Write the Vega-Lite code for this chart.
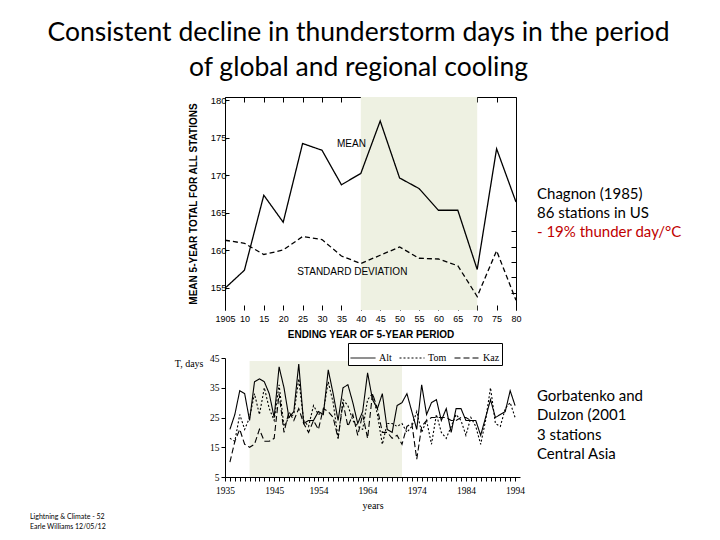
{
"$schema": "https://vega.github.io/schema/vega-lite/v6.json",
"background": "white",
"padding": {"left": 30, "top": 19, "right": 5, "bottom": 5},
"title": {"text": ["Consistent decline in thunderstorm days in the period", "of global and regional cooling"], "font": "Lato", "fontSize": 26.5, "fontWeight": "normal", "lineHeight": 35, "color": "black", "anchor": "middle", "offset": 14},
"columns": 2,
"align": "each",
"spacing": {"row": 3, "column": 12},
"resolve": {"scale": {"strokeDash": "independent", "color": "independent"}, "legend": {"strokeDash": "independent", "color": "independent"}},
"config": {"view": {"stroke": null}, "axis": {"grid": false, "domainColor": "black", "tickColor": "black", "labelColor": "black", "titleColor": "black"}},
"concat": [
{
"width": 291, "height": 213,
"layer": [
{"data": {"values": [{"start": 1940, "end": 1970}]},
 "mark": {"type": "rect", "color": "#eef1e2", "opacity": 1},
 "encoding": {
  "x": {"field": "start", "type": "quantitative", "scale": {"domain": [1905, 1980], "nice": false, "zero": false},
   "axis": {"orient": "bottom", "values": [1905,1910,1915,1920,1925,1930,1935,1940,1945,1950,1955,1960,1965,1970,1975,1980], "labelExpr": "datum.value == 1905 ? '1905' : '' + (datum.value % 100)", "domain": false, "tickSize": -5, "labelFont": "Liberation Sans", "labelFontSize": 9, "labelPadding": 9, "labelFlush": false, "labelOverlap": false, "title": "ENDING YEAR OF 5-YEAR PERIOD", "titleFont": "Liberation Sans", "titleFontSize": 10, "titleFontWeight": "bold", "titlePadding": 6}},
  "x2": {"field": "end"}}},
{"data": {"values": [
  {"year": 1905, "series": "Mean", "value": 154.9},
  {"year": 1910, "series": "Mean", "value": 157.3},
  {"year": 1915, "series": "Mean", "value": 167.3},
  {"year": 1920, "series": "Mean", "value": 163.7},
  {"year": 1925, "series": "Mean", "value": 174.2},
  {"year": 1930, "series": "Mean", "value": 173.3},
  {"year": 1935, "series": "Mean", "value": 168.7},
  {"year": 1940, "series": "Mean", "value": 170.2},
  {"year": 1945, "series": "Mean", "value": 177.2},
  {"year": 1950, "series": "Mean", "value": 169.6},
  {"year": 1955, "series": "Mean", "value": 168.2},
  {"year": 1960, "series": "Mean", "value": 165.3},
  {"year": 1965, "series": "Mean", "value": 165.3},
  {"year": 1970, "series": "Mean", "value": 157.4},
  {"year": 1975, "series": "Mean", "value": 173.5},
  {"year": 1980, "series": "Mean", "value": 166.4},
  {"year": 1905, "series": "Standard deviation", "value": 161.3},
  {"year": 1910, "series": "Standard deviation", "value": 160.9},
  {"year": 1915, "series": "Standard deviation", "value": 159.4},
  {"year": 1920, "series": "Standard deviation", "value": 160.0},
  {"year": 1925, "series": "Standard deviation", "value": 161.8},
  {"year": 1930, "series": "Standard deviation", "value": 161.4},
  {"year": 1935, "series": "Standard deviation", "value": 159.2},
  {"year": 1940, "series": "Standard deviation", "value": 158.2},
  {"year": 1945, "series": "Standard deviation", "value": 159.3},
  {"year": 1950, "series": "Standard deviation", "value": 160.4},
  {"year": 1955, "series": "Standard deviation", "value": 158.9},
  {"year": 1960, "series": "Standard deviation", "value": 158.8},
  {"year": 1965, "series": "Standard deviation", "value": 157.9},
  {"year": 1970, "series": "Standard deviation", "value": 153.8},
  {"year": 1975, "series": "Standard deviation", "value": 159.9},
  {"year": 1980, "series": "Standard deviation", "value": 153.3}
 ]},
 "mark": {"type": "line", "color": "black", "strokeWidth": 1.3},
 "encoding": {
  "x": {"field": "year", "type": "quantitative", "scale": {"domain": [1905, 1980], "nice": false, "zero": false},
   "axis": {"orient": "top", "values": [1905,1910,1915,1920,1925,1930,1935,1940,1945,1950,1955,1960,1965,1970,1975,1980], "labels": false, "domain": true, "tickSize": -5, "title": null}},
  "y": {"field": "value", "type": "quantitative", "scale": {"domain": [152, 180.4], "nice": false, "zero": false},
   "axis": {"orient": "left", "values": [155,160,165,170,175,180], "tickSize": -4, "labelFont": "Liberation Sans", "labelFontSize": 9.5, "labelPadding": 3, "title": "MEAN 5-YEAR TOTAL FOR ALL STATIONS", "titleFont": "Liberation Sans", "titleFontSize": 10, "titleFontWeight": "bold", "titlePadding": 12}},
  "strokeDash": {"field": "series", "type": "nominal", "scale": {"domain": ["Mean", "Standard deviation"], "range": [[1, 0], [5, 3]]}, "legend": null}}},
{"data": {"values": [
  {"year": 1937.6, "value": 174.2, "label": "MEAN"},
  {"year": 1937.8, "value": 157.1, "label": "STANDARD DEVIATION"}
 ]},
 "mark": {"type": "text", "font": "Liberation Sans", "fontSize": 10, "color": "black", "baseline": "middle", "align": "center"},
 "encoding": {
  "x": {"field": "year", "type": "quantitative", "scale": {"domain": [1905, 1980], "nice": false, "zero": false}, "axis": null},
  "y": {"field": "value", "type": "quantitative", "scale": {"domain": [152, 180.4], "nice": false, "zero": false},
   "axis": {"orient": "right", "values": [154.3, 156.4, 158.4, 160.4, 162.5], "labels": false, "tickSize": -5, "domain": true, "title": null}},
  "text": {"field": "label"}}}
],
"resolve": {"axis": {"x": "independent", "y": "independent"}}
},
{
"width": 150, "height": 232,
"data": {"values": [
 {"line": 1, "col": 0, "text": "Chagnon (1985)", "kind": "source"},
 {"line": 2, "col": 0, "text": "86 stations in US", "kind": "source"},
 {"line": 3, "col": 0, "text": "- 19% thunder day/°C", "kind": "result"}
]},
"mark": {"type": "text", "align": "left", "baseline": "middle", "font": "Lato", "fontSize": 15},
"encoding": {
 "x": {"field": "col", "type": "quantitative", "scale": {"domain": [0, 1]}, "axis": null},
 "y": {"field": "line", "type": "quantitative", "scale": {"domain": [-3.95, 7.95], "reverse": true, "nice": false, "zero": false}, "axis": null},
 "text": {"field": "text"},
 "color": {"field": "kind", "type": "nominal", "scale": {"domain": ["source", "result"], "range": ["#000000", "#c00000"]}, "legend": null}}
},
{
"width": 295, "height": 119,
"title": {"text": ["Lightning & Climate - 52", "Earle Williams 12/05/12"], "orient": "bottom", "anchor": "start", "frame": "group", "dx": -195, "font": "Lato", "fontSize": 7, "fontWeight": "normal", "lineHeight": 10, "offset": 2, "color": "black"},
"layer": [
{"data": {"values": [{"start": 1940, "end": 1971, "low": 5, "high": 44}]},
 "mark": {"type": "rect", "color": "#eff1e4", "opacity": 1},
 "encoding": {
  "x": {"field": "start", "type": "quantitative", "scale": {"domain": [1935, 1995], "nice": false, "zero": false}, "axis": null},
  "x2": {"field": "end"},
  "y": {"field": "low", "type": "quantitative", "scale": {"domain": [5, 45], "nice": false, "zero": false}, "axis": null},
  "y2": {"field": "high"}}},
{"data": {"values": [
{"year":1936,"station":"Alt","days":21},{"year":1937,"station":"Alt","days":26},{"year":1938,"station":"Alt","days":34},{"year":1939,"station":"Alt","days":33},{"year":1940,"station":"Alt","days":24},{"year":1941,"station":"Alt","days":37},{"year":1942,"station":"Alt","days":38},{"year":1943,"station":"Alt","days":37},{"year":1944,"station":"Alt","days":33},{"year":1945,"station":"Alt","days":25},{"year":1946,"station":"Alt","days":42},{"year":1947,"station":"Alt","days":35},{"year":1948,"station":"Alt","days":25},{"year":1949,"station":"Alt","days":27},{"year":1950,"station":"Alt","days":43},{"year":1951,"station":"Alt","days":23},{"year":1952,"station":"Alt","days":24},{"year":1953,"station":"Alt","days":24},{"year":1954,"station":"Alt","days":27},{"year":1955,"station":"Alt","days":26},{"year":1956,"station":"Alt","days":41},{"year":1957,"station":"Alt","days":33},{"year":1958,"station":"Alt","days":24},{"year":1959,"station":"Alt","days":35},{"year":1960,"station":"Alt","days":36},{"year":1961,"station":"Alt","days":30},{"year":1962,"station":"Alt","days":23},{"year":1963,"station":"Alt","days":27},{"year":1964,"station":"Alt","days":40},{"year":1965,"station":"Alt","days":31},{"year":1966,"station":"Alt","days":28},{"year":1967,"station":"Alt","days":33},{"year":1968,"station":"Alt","days":21},{"year":1969,"station":"Alt","days":20},{"year":1970,"station":"Alt","days":29},{"year":1971,"station":"Alt","days":30},{"year":1972,"station":"Alt","days":33},{"year":1973,"station":"Alt","days":27},{"year":1974,"station":"Alt","days":21},{"year":1975,"station":"Alt","days":36},{"year":1976,"station":"Alt","days":26},{"year":1977,"station":"Alt","days":30},{"year":1978,"station":"Alt","days":31},{"year":1979,"station":"Alt","days":24},{"year":1980,"station":"Alt","days":28},{"year":1981,"station":"Alt","days":20},{"year":1982,"station":"Alt","days":28},{"year":1983,"station":"Alt","days":28},{"year":1984,"station":"Alt","days":24},{"year":1985,"station":"Alt","days":24},{"year":1986,"station":"Alt","days":24},{"year":1987,"station":"Alt","days":19},{"year":1988,"station":"Alt","days":25},{"year":1989,"station":"Alt","days":31},{"year":1990,"station":"Alt","days":25},{"year":1991,"station":"Alt","days":26},{"year":1992,"station":"Alt","days":27},{"year":1993,"station":"Alt","days":34},{"year":1994,"station":"Alt","days":29},
{"year":1936,"station":"Tom","days":18},{"year":1937,"station":"Tom","days":17},{"year":1938,"station":"Tom","days":26},{"year":1939,"station":"Tom","days":21},{"year":1940,"station":"Tom","days":25},{"year":1941,"station":"Tom","days":33},{"year":1942,"station":"Tom","days":26},{"year":1943,"station":"Tom","days":35},{"year":1944,"station":"Tom","days":28},{"year":1945,"station":"Tom","days":24},{"year":1946,"station":"Tom","days":36},{"year":1947,"station":"Tom","days":22},{"year":1948,"station":"Tom","days":25},{"year":1949,"station":"Tom","days":26},{"year":1950,"station":"Tom","days":38},{"year":1951,"station":"Tom","days":24},{"year":1952,"station":"Tom","days":22},{"year":1953,"station":"Tom","days":29},{"year":1954,"station":"Tom","days":26},{"year":1955,"station":"Tom","days":27},{"year":1956,"station":"Tom","days":37},{"year":1957,"station":"Tom","days":30},{"year":1958,"station":"Tom","days":18},{"year":1959,"station":"Tom","days":31},{"year":1960,"station":"Tom","days":29},{"year":1961,"station":"Tom","days":24},{"year":1962,"station":"Tom","days":22},{"year":1963,"station":"Tom","days":21},{"year":1964,"station":"Tom","days":31},{"year":1965,"station":"Tom","days":33},{"year":1966,"station":"Tom","days":26},{"year":1967,"station":"Tom","days":16},{"year":1968,"station":"Tom","days":23},{"year":1969,"station":"Tom","days":23},{"year":1970,"station":"Tom","days":22},{"year":1971,"station":"Tom","days":23},{"year":1972,"station":"Tom","days":20},{"year":1973,"station":"Tom","days":22},{"year":1974,"station":"Tom","days":27},{"year":1975,"station":"Tom","days":20},{"year":1976,"station":"Tom","days":24},{"year":1977,"station":"Tom","days":16},{"year":1978,"station":"Tom","days":26},{"year":1979,"station":"Tom","days":20},{"year":1980,"station":"Tom","days":18},{"year":1981,"station":"Tom","days":22},{"year":1982,"station":"Tom","days":26},{"year":1983,"station":"Tom","days":24},{"year":1984,"station":"Tom","days":19},{"year":1985,"station":"Tom","days":25},{"year":1986,"station":"Tom","days":22},{"year":1987,"station":"Tom","days":16},{"year":1988,"station":"Tom","days":24},{"year":1989,"station":"Tom","days":35},{"year":1990,"station":"Tom","days":23},{"year":1991,"station":"Tom","days":22},{"year":1992,"station":"Tom","days":28},{"year":1993,"station":"Tom","days":30},{"year":1994,"station":"Tom","days":25},
{"year":1936,"station":"Kaz","days":10},{"year":1937,"station":"Kaz","days":17},{"year":1938,"station":"Kaz","days":21},{"year":1939,"station":"Kaz","days":16},{"year":1940,"station":"Kaz","days":15},{"year":1941,"station":"Kaz","days":16},{"year":1942,"station":"Kaz","days":21},{"year":1943,"station":"Kaz","days":17},{"year":1944,"station":"Kaz","days":17},{"year":1945,"station":"Kaz","days":18},{"year":1946,"station":"Kaz","days":33},{"year":1947,"station":"Kaz","days":20},{"year":1948,"station":"Kaz","days":27},{"year":1949,"station":"Kaz","days":24},{"year":1950,"station":"Kaz","days":28},{"year":1951,"station":"Kaz","days":23},{"year":1952,"station":"Kaz","days":20},{"year":1953,"station":"Kaz","days":24},{"year":1954,"station":"Kaz","days":21},{"year":1955,"station":"Kaz","days":28},{"year":1956,"station":"Kaz","days":27},{"year":1957,"station":"Kaz","days":25},{"year":1958,"station":"Kaz","days":18},{"year":1959,"station":"Kaz","days":30},{"year":1960,"station":"Kaz","days":22},{"year":1961,"station":"Kaz","days":26},{"year":1962,"station":"Kaz","days":19},{"year":1963,"station":"Kaz","days":26},{"year":1964,"station":"Kaz","days":18},{"year":1965,"station":"Kaz","days":33},{"year":1966,"station":"Kaz","days":28},{"year":1967,"station":"Kaz","days":20},{"year":1968,"station":"Kaz","days":20},{"year":1969,"station":"Kaz","days":18},{"year":1970,"station":"Kaz","days":19},{"year":1971,"station":"Kaz","days":16},{"year":1972,"station":"Kaz","days":22},{"year":1973,"station":"Kaz","days":23},{"year":1974,"station":"Kaz","days":11},{"year":1975,"station":"Kaz","days":22},{"year":1976,"station":"Kaz","days":24},{"year":1977,"station":"Kaz","days":25},{"year":1978,"station":"Kaz","days":25},{"year":1979,"station":"Kaz","days":25},{"year":1980,"station":"Kaz","days":25},{"year":1981,"station":"Kaz","days":24},{"year":1982,"station":"Kaz","days":24},{"year":1983,"station":"Kaz","days":25},{"year":1984,"station":"Kaz","days":25},{"year":1985,"station":"Kaz","days":24},{"year":1986,"station":"Kaz","days":24}
 ]},
 "mark": {"type": "line", "color": "black", "strokeWidth": 1.1},
 "encoding": {
  "x": {"field": "year", "type": "quantitative", "scale": {"domain": [1935, 1995], "nice": false, "zero": false},
   "axis": {"orient": "bottom", "values": [1935,1936,1937,1938,1939,1940,1941,1942,1943,1944,1945,1946,1947,1948,1949,1950,1951,1952,1953,1954,1955,1956,1957,1958,1959,1960,1961,1962,1963,1964,1965,1966,1967,1968,1969,1970,1971,1972,1973,1974,1975,1976,1977,1978,1979,1980,1981,1982,1983,1984,1985,1986,1987,1988,1989,1990,1991,1992,1993,1994], "labelExpr": "indexof([1935,1945,1954,1964,1974,1984,1994], datum.value) >= 0 ? format(datum.value, 'd') : ''", "tickSize": 4, "labelFont": "Liberation Serif", "labelFontSize": 9.5, "labelPadding": 4, "labelFlush": false, "labelOverlap": false, "title": "years", "titleFont": "Liberation Serif", "titleFontSize": 10, "titleFontWeight": "normal", "titlePadding": 6}},
  "y": {"field": "days", "type": "quantitative", "scale": {"domain": [5, 45], "nice": false, "zero": false},
   "axis": {"orient": "left", "values": [5, 15, 25, 35, 45], "tickSize": 4, "labelFont": "Liberation Serif", "labelFontSize": 9.5, "labelPadding": 2, "title": "T, days", "titleAngle": 0, "titleAlign": "right", "titleBaseline": "middle", "titleX": -22, "titleY": 5, "titleFont": "Liberation Serif", "titleFontSize": 10, "titleFontWeight": "normal"}},
  "strokeDash": {"field": "station", "type": "nominal", "scale": {"domain": ["Alt", "Tom", "Kaz"], "range": [[1, 0], [2, 2], [6, 3]]},
   "legend": {"orient": "none", "legendX": 123, "legendY": -15, "direction": "horizontal", "title": null, "symbolType": "stroke", "symbolSize": 625, "symbolStrokeWidth": 1, "symbolStrokeColor": "black", "labelFont": "Liberation Serif", "labelFontSize": 10, "labelColor": "black", "strokeColor": "black", "fillColor": "white", "padding": 2, "columnPadding": 5, "labelOffset": 3}}}}
],
"resolve": {"axis": {"x": "independent", "y": "independent"}}
},
{
"width": 150, "height": 134,
"data": {"values": [
 {"line": 1, "col": 0, "text": "Gorbatenko and"},
 {"line": 2, "col": 0, "text": "Dulzon (2001"},
 {"line": 3, "col": 0, "text": "3 stations"},
 {"line": 4, "col": 0, "text": "Central Asia"}
]},
"mark": {"type": "text", "align": "left", "baseline": "middle", "font": "Lato", "fontSize": 15, "color": "black"},
"encoding": {
 "x": {"field": "col", "type": "quantitative", "scale": {"domain": [0, 1]}, "axis": null},
 "y": {"field": "line", "type": "quantitative", "scale": {"domain": [-0.97, 5.97], "reverse": true, "nice": false, "zero": false}, "axis": null},
 "text": {"field": "text"}}
}
]
}
